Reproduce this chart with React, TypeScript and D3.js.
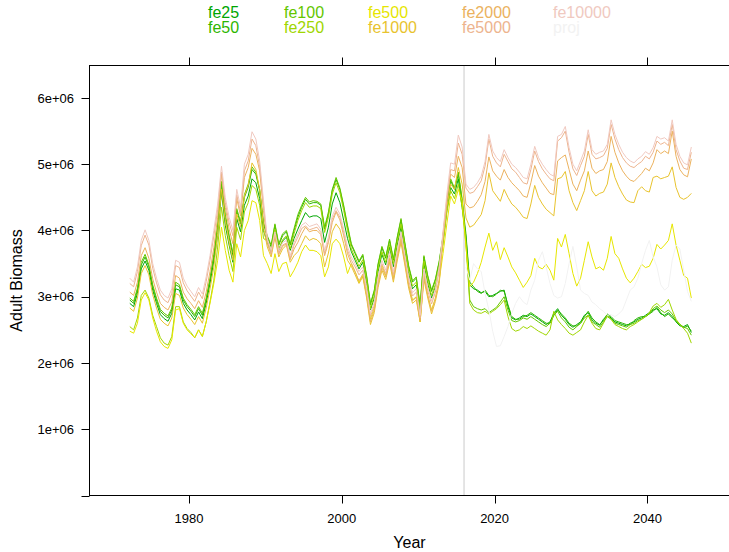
import * as React from "react";
import * as d3 from "d3";

// adult biomass, millions; half-year steps from 1972.25, history to 2015.75 then projection
const years = d3.range(148).map(i => 1972.25 + i * 0.5);
const projStart = 88; // first index of the projection (2016.25)

const fe25 = [
  2.90, 2.85, 3.05, 3.42, 3.54, 3.40, 3.10, 2.90, 2.73, 2.67, 2.63, 2.75, 3.12, 3.10, 2.90, 2.80, 2.73, 2.65, 2.77, 2.67, 2.90, 3.20, 3.54,
  3.93, 4.58, 4.08, 3.78, 3.52, 4.18, 3.98, 4.38, 4.52, 4.78, 4.72, 4.48, 4.00,
  3.82, 3.67, 4.00, 3.70, 3.84, 3.90, 3.70, 3.88, 4.02, 4.15, 4.27, 4.20, 4.22, 4.22, 4.18, 3.82, 4.05, 4.40, 4.57, 4.42, 4.15, 3.88,
  3.68, 3.55, 3.42, 3.52, 3.20, 2.80, 2.98, 3.38, 3.64, 3.48, 3.75, 3.45, 3.78, 4.05, 3.70, 3.35, 3.12, 3.18, 2.76, 3.50, 3.20, 2.98, 3.15, 3.42,
  3.82, 4.30, 4.65, 4.55, 4.78, 4.35,
  3.90, 3.18, 3.12, 3.10, 3.06, 3.08, 3.00, 3.02, 3.05, 3.08, 3.10, 2.85, 2.68, 2.65, 2.68, 2.72, 2.70, 2.74, 2.70, 2.66,
  2.62, 2.58, 2.62, 2.75, 2.82, 2.72, 2.66, 2.58, 2.54, 2.58, 2.62, 2.72, 2.76, 2.65, 2.60, 2.57, 2.66, 2.72, 2.68, 2.62,
  2.60, 2.58, 2.56, 2.60, 2.62, 2.66, 2.68, 2.72, 2.76, 2.80, 2.82, 2.74, 2.72, 2.76, 2.70, 2.62, 2.56, 2.55, 2.58, 2.46,
];
const fe50 = [
  2.95, 2.90, 3.10, 3.48, 3.60, 3.45, 3.15, 2.95, 2.78, 2.72, 2.68, 2.80, 3.18, 3.15, 2.95, 2.85, 2.78, 2.70, 2.82, 2.72, 2.95, 3.25, 3.60,
  4.05, 4.70, 4.20, 3.90, 3.62, 4.30, 4.10, 4.50, 4.65, 4.92, 4.85, 4.60, 4.10,
  3.90, 3.75, 4.08, 3.78, 3.92, 3.98, 3.78, 4.00, 4.20, 4.35, 4.47, 4.40, 4.42, 4.42, 4.38, 4.02, 4.25, 4.60, 4.77, 4.62, 4.35, 4.05,
  3.78, 3.65, 3.52, 3.62, 3.30, 2.88, 3.08, 3.48, 3.74, 3.58, 3.85, 3.55, 3.88, 4.16, 3.80, 3.45, 3.22, 3.28, 2.85, 3.60, 3.30, 3.08, 3.25, 3.52,
  3.90, 4.40, 4.75, 4.62, 4.85, 4.45,
  3.95, 3.22, 3.15, 3.08, 3.05, 3.10, 3.02, 3.00, 3.04, 3.10, 3.08, 2.88, 2.70, 2.66, 2.66, 2.70, 2.72, 2.76, 2.72, 2.68,
  2.64, 2.60, 2.60, 2.72, 2.80, 2.74, 2.68, 2.60, 2.56, 2.56, 2.60, 2.70, 2.78, 2.68, 2.62, 2.58, 2.64, 2.74, 2.70, 2.64,
  2.62, 2.60, 2.58, 2.58, 2.64, 2.68, 2.70, 2.70, 2.74, 2.78, 2.84, 2.76, 2.70, 2.74, 2.68, 2.64, 2.58, 2.53, 2.56, 2.48,
];
const fe100 = [
  2.98, 2.93, 3.13, 3.52, 3.64, 3.48, 3.18, 2.98, 2.81, 2.75, 2.71, 2.83, 3.22, 3.18, 2.98, 2.88, 2.81, 2.73, 2.85, 2.75, 2.98, 3.28, 3.64,
  4.08, 4.74, 4.24, 3.93, 3.66, 4.33, 4.13, 4.54, 4.70, 4.96, 4.88, 4.62, 4.12,
  3.92, 3.78, 4.10, 3.80, 3.95, 4.00, 3.80, 4.03, 4.24, 4.38, 4.50, 4.43, 4.45, 4.44, 4.40, 4.05, 4.28, 4.62, 4.80, 4.64, 4.38, 4.08,
  3.80, 3.67, 3.54, 3.64, 3.32, 2.90, 3.10, 3.50, 3.76, 3.60, 3.87, 3.57, 3.90, 4.18, 3.82, 3.47, 3.24, 3.30, 2.87, 3.62, 3.32, 3.10, 3.27, 3.54,
  3.92, 4.42, 4.78, 4.64, 4.88, 4.48,
  3.85, 2.95, 2.85, 2.82, 2.80, 2.82, 2.76, 2.80, 2.84, 2.92, 3.00, 2.80, 2.64, 2.62, 2.64, 2.68, 2.66, 2.70, 2.66, 2.62,
  2.58, 2.55, 2.60, 2.72, 2.78, 2.68, 2.62, 2.54, 2.50, 2.55, 2.60, 2.68, 2.72, 2.62, 2.58, 2.54, 2.62, 2.70, 2.66, 2.60,
  2.58, 2.56, 2.54, 2.58, 2.60, 2.64, 2.66, 2.70, 2.74, 2.82, 2.86, 2.80, 2.76, 2.80, 2.74, 2.64, 2.58, 2.54, 2.52, 2.42,
];
const fe250 = [
  2.55, 2.50, 2.68, 3.02, 3.10, 2.98, 2.72, 2.55, 2.38, 2.30, 2.27, 2.40, 2.85, 2.85, 2.62, 2.52, 2.46, 2.38, 2.50, 2.40, 2.62, 2.92, 3.25,
  3.75, 4.35, 3.92, 3.62, 3.38, 4.05, 3.86, 4.28, 4.42, 4.68, 4.62, 4.38, 3.88,
  3.84, 3.70, 4.02, 3.72, 3.86, 3.92, 3.72, 3.95, 4.15, 4.30, 4.42, 4.35, 4.37, 4.37, 4.33, 3.97, 4.20, 4.55, 4.72, 4.57, 4.30, 4.00,
  3.72, 3.59, 3.46, 3.56, 3.24, 2.82, 3.02, 3.42, 3.68, 3.52, 3.79, 3.49, 3.82, 4.10, 3.74, 3.39, 3.16, 3.22, 2.79, 3.54, 3.24, 3.02, 3.19, 3.46,
  3.80, 4.28, 4.60, 4.48, 4.70, 4.35,
  3.80, 2.90, 2.80, 2.76, 2.75, 2.78, 2.74, 2.78, 2.82, 2.88, 2.95, 2.70, 2.52, 2.48, 2.50, 2.55, 2.52, 2.56, 2.52, 2.48,
  2.45, 2.42, 2.50, 2.78, 2.65, 2.58, 2.52, 2.45, 2.42, 2.46, 2.50, 2.62, 2.72, 2.60, 2.52, 2.50, 2.60, 2.72, 2.66, 2.58,
  2.55, 2.52, 2.50, 2.55, 2.58, 2.62, 2.66, 2.70, 2.76, 2.86, 2.90, 2.84, 2.88, 2.96, 2.80, 2.66, 2.58, 2.52, 2.45, 2.30,
];
const fe500 = [
  2.48, 2.45, 2.60, 2.95, 3.06, 2.95, 2.68, 2.48, 2.32, 2.25, 2.22, 2.35, 2.80, 2.82, 2.60, 2.50, 2.44, 2.38, 2.50, 2.40, 2.62, 2.90, 3.20,
  3.55, 4.05, 3.70, 3.40, 3.22, 3.80, 3.60, 4.00, 4.15, 4.45, 4.42, 4.15, 3.62,
  3.50, 3.35, 3.65, 3.38, 3.50, 3.52, 3.30, 3.40, 3.52, 3.68, 3.78, 3.70, 3.70, 3.68, 3.62, 3.30, 3.45, 3.80, 3.87, 3.80, 3.60, 3.35,
  3.50, 3.38, 3.22, 3.32, 3.02, 2.66, 2.84, 3.22, 3.48, 3.32, 3.58, 3.28, 3.60, 3.88, 3.54, 3.18, 2.95, 3.00, 2.62, 3.32, 3.02, 2.80, 2.98, 3.25,
  3.65, 4.10, 4.52, 4.40, 4.62, 4.45,
  3.75, 3.15, 3.22, 3.35, 3.52, 3.75, 3.96, 3.70, 3.83, 3.56, 3.74, 3.60, 3.45, 3.36, 3.25, 3.14, 3.22, 3.32, 3.58, 3.45,
  3.42, 3.49, 3.40, 3.25, 3.88, 3.75, 3.94, 3.65, 3.35, 3.16, 3.28, 3.55, 3.83, 3.60, 3.42, 3.45, 3.40, 3.58, 3.91, 3.65,
  3.58, 3.42, 3.28, 3.21, 3.28, 3.38, 3.49, 3.44, 3.46, 3.58, 3.79, 3.72, 3.78, 3.85, 4.10, 3.78, 3.55, 3.32, 3.28, 2.98,
];
const fe1000 = [
  2.83, 2.78, 2.98, 3.35, 3.47, 3.33, 3.03, 2.83, 2.66, 2.60, 2.56, 2.68, 3.05, 3.02, 2.83, 2.73, 2.66, 2.58, 2.70, 2.60, 2.83, 3.12, 3.45,
  3.95, 4.62, 4.15, 3.82, 3.55, 4.25, 4.05, 4.52, 4.68, 5.02, 4.92, 4.62, 4.05,
  3.75, 3.60, 3.90, 3.60, 3.72, 3.78, 3.52, 3.62, 3.68, 3.80, 3.92, 3.85, 3.88, 3.86, 3.80, 3.45, 3.66, 3.98, 4.10, 4.02, 3.80, 3.55,
  3.46, 3.33, 3.20, 3.30, 2.98, 2.58, 2.76, 3.14, 3.40, 3.26, 3.52, 3.22, 3.54, 3.82, 3.48, 3.13, 2.90, 2.95, 2.62, 3.26, 2.98, 2.74, 2.93, 3.20,
  3.85, 4.35, 4.70, 4.62, 4.95, 4.70,
  4.19, 4.05, 4.08, 4.16, 4.24, 4.45, 4.87, 4.60, 4.52, 4.44, 4.62, 4.50, 4.40, 4.35, 4.28, 4.20, 4.18, 4.40, 4.68, 4.50,
  4.40, 4.32, 4.27, 4.22, 4.78, 4.80, 4.89, 4.60, 4.42, 4.30, 4.45, 4.60, 4.89, 4.60, 4.52, 4.56, 4.58, 4.70, 5.02, 4.80,
  4.66, 4.55, 4.46, 4.43, 4.42, 4.60, 4.66, 4.60, 4.58, 4.80, 4.82, 4.78, 4.80, 4.82, 4.96, 4.65, 4.50, 4.47, 4.50, 4.56,
];
const fe2000 = [
  3.07, 3.02, 3.22, 3.62, 3.74, 3.58, 3.27, 3.07, 2.90, 2.84, 2.80, 2.92, 3.32, 3.28, 3.07, 2.97, 2.90, 2.82, 2.94, 2.84, 3.07, 3.38, 3.74,
  4.20, 4.85, 4.35, 4.02, 3.80, 4.48, 4.22, 4.80, 4.95, 5.24, 5.15, 4.90, 4.30,
  3.80, 3.64, 3.94, 3.64, 3.76, 3.80, 3.56, 3.72, 3.82, 3.95, 4.05, 3.98, 4.00, 4.00, 3.94, 3.62, 3.82, 4.12, 4.28, 4.16, 3.92, 3.65,
  3.50, 3.37, 3.24, 3.34, 3.02, 2.62, 2.80, 3.18, 3.44, 3.30, 3.56, 3.26, 3.58, 3.86, 3.52, 3.17, 2.94, 2.99, 2.64, 3.30, 3.02, 2.78, 2.97, 3.25,
  3.95, 4.48, 4.85, 4.80, 5.12, 4.95,
  4.40, 4.34, 4.36, 4.44, 4.54, 4.74, 5.11, 4.90, 4.82, 4.76, 4.92, 4.80, 4.72, 4.66, 4.60, 4.52, 4.50, 4.72, 4.98, 4.82,
  4.72, 4.64, 4.56, 4.54, 5.05, 5.10, 5.14, 4.92, 4.70, 4.60, 4.76, 4.90, 5.20, 4.94, 4.86, 4.90, 4.92, 5.04, 5.42, 5.18,
  5.02, 4.90, 4.82, 4.76, 4.74, 4.80, 4.86, 4.94, 4.90, 5.02, 5.22, 5.16, 5.20, 5.16, 5.50, 5.12, 4.92, 4.84, 4.81, 5.08,
];
const fe5000 = [
  3.20, 3.15, 3.38, 3.77, 3.93, 3.78, 3.43, 3.21, 3.03, 2.95, 2.91, 3.05, 3.47, 3.44, 3.21, 3.09, 3.01, 2.93, 3.07, 2.97, 3.23, 3.55, 3.92,
  4.32, 4.88, 4.42, 4.12, 3.92, 4.54, 4.27, 4.90, 5.05, 5.38, 5.28, 4.96, 4.38,
  3.84, 3.66, 3.94, 3.66, 3.78, 3.81, 3.58, 3.78, 3.90, 4.03, 4.07, 4.01, 4.03, 4.05, 3.97, 3.65, 3.85, 4.17, 4.30, 4.20, 3.97, 3.70,
  3.55, 3.45, 3.33, 3.40, 3.09, 2.70, 2.87, 3.25, 3.50, 3.35, 3.63, 3.33, 3.65, 3.93, 3.59, 3.25, 3.01, 3.07, 2.68, 3.37, 3.09, 2.89, 3.07, 3.40,
  3.92, 4.45, 4.92, 4.90, 5.32, 5.15,
  4.64, 4.56, 4.58, 4.66, 4.75, 4.97, 5.38, 5.12, 5.02, 4.96, 5.15, 5.04, 4.93, 4.88, 4.80, 4.72, 4.70, 4.92, 5.20, 5.04,
  4.93, 4.85, 4.78, 4.75, 5.35, 5.40, 5.50, 5.18, 4.93, 4.83, 4.98, 5.12, 5.45, 5.15, 5.08, 5.10, 5.13, 5.24, 5.60, 5.38,
  5.22, 5.10, 5.02, 4.97, 4.95, 5.00, 5.04, 5.12, 5.08, 5.18, 5.35, 5.30, 5.33, 5.28, 5.60, 5.22, 5.05, 4.94, 4.92, 5.18,
];
const fe10000 = [
  3.28, 3.22, 3.45, 3.85, 4.01, 3.85, 3.50, 3.28, 3.10, 3.02, 2.98, 3.12, 3.55, 3.52, 3.28, 3.16, 3.08, 3.00, 3.14, 3.04, 3.30, 3.62, 4.00,
  4.40, 4.97, 4.50, 4.20, 4.00, 4.62, 4.35, 5.00, 5.15, 5.49, 5.38, 5.05, 4.45,
  3.88, 3.70, 3.98, 3.70, 3.82, 3.85, 3.62, 3.82, 3.95, 4.08, 4.12, 4.06, 4.08, 4.10, 4.02, 3.70, 3.90, 4.22, 4.35, 4.25, 4.02, 3.75,
  3.60, 3.50, 3.38, 3.45, 3.14, 2.74, 2.92, 3.30, 3.55, 3.40, 3.68, 3.38, 3.70, 3.98, 3.64, 3.30, 3.06, 3.12, 2.72, 3.42, 3.14, 2.94, 3.12, 3.45,
  3.98, 4.55, 5.02, 5.00, 5.44, 5.26,
  4.70, 4.62, 4.65, 4.72, 4.82, 5.04, 5.45, 5.20, 5.10, 5.04, 5.22, 5.10, 5.00, 4.95, 4.88, 4.80, 4.78, 5.00, 5.27, 5.10,
  5.00, 4.92, 4.85, 4.82, 5.42, 5.45, 5.57, 5.25, 5.00, 4.90, 5.05, 5.20, 5.52, 5.22, 5.15, 5.18, 5.20, 5.30, 5.67, 5.45,
  5.30, 5.18, 5.10, 5.05, 5.02, 5.08, 5.12, 5.19, 5.15, 5.25, 5.42, 5.38, 5.40, 5.35, 5.67, 5.30, 5.12, 5.02, 4.99, 5.26,
];
// proj only exists for the projection years
const proj = [
  3.45, 3.25, 3.50, 3.42, 3.38, 3.05, 2.80, 2.48, 2.25, 2.26, 2.40, 2.55, 2.75, 2.90, 3.00, 2.92, 2.88, 3.10, 3.25, 3.55,
  3.68, 3.45, 3.20, 3.02, 2.98, 3.00, 3.20, 3.50, 3.76, 3.45, 3.10, 3.05, 3.02, 2.92, 2.88, 2.82, 2.78, 2.72, 2.73, 2.70,
  2.74, 2.80, 2.95, 3.10, 3.15, 3.28, 3.50, 3.70, 3.85, 3.60, 3.45, 3.18, 3.10, 3.15, 3.55, 3.78, 3.72, 3.40, 3.08, 2.93,
];

const seriesNames = ["fe25", "fe50", "fe100", "fe250", "fe500", "fe1000", "fe2000", "fe5000", "fe10000", "proj"];
const seriesValues = [fe25, fe50, fe100, fe250, fe500, fe1000, fe2000, fe5000, fe10000, proj];
const seriesOffset = [0, 0, 0, 0, 0, 0, 0, 0, 0, projStart];
// terrain.colors(10)
const colors = ["#00A600", "#2DB600", "#63C600", "#A0D600", "#E6E600", "#E8C32E", "#EBB25E", "#EDB48E", "#F0C9C0", "#F2F2F2"];
const cutYear = 2016;

const W = 729;
const H = 552;
const font = "'Liberation Sans', Arial, Helvetica, sans-serif";

export default function App() {
  const left = 89.5, right = 729.5, top = 65.5, bottom = 495.5;
  // 1980 sits at x=189 and 20 years span ~152.8px
  const x = d3.scaleLinear()
    .domain([1980 + (left - 189) / 7.64, 1980 + (right - 189) / 7.64])
    .range([left, right]);
  const y = d3.scaleLinear().domain([0, 6.49e6]).range([bottom, top]);

  const line = d3.line<[number, number]>()
    .x(d => x(d[0]))
    .y(d => y(d[1] * 1e6));

  const xTicks = x.ticks(4);
  const yTicks = y.ticks(6);
  const legendCols = [208, 284, 368, 462, 553];
  const legendRows = [17.5, 33];

  return (
    <svg width={W} height={H} style={{ position: "absolute", left: 0, top: 0, background: "#fff" }}
      fontFamily={font}>
      {/* legend */}
      {seriesNames.map((n, i) => (
        <text key={n} x={legendCols[Math.floor(i / 2)]} y={legendRows[i % 2]} fontSize={16} fill={colors[i]}>{n}</text>
      ))}

      <line x1={x(cutYear)} x2={x(cutYear)} y1={top} y2={bottom} stroke="#d3d3d3" strokeWidth={1.2} />

      <clipPath id="panel">
        <rect x={left} y={top} width={right - left} height={bottom - top} />
      </clipPath>
      <g clipPath="url(#panel)" fill="none" strokeWidth={1}>
        {seriesValues.map((vals, s) => {
          const pts = vals.map((v, i) => [years[i + seriesOffset[s]], v] as [number, number]);
          return <path key={seriesNames[s]} d={line(pts) || ""} stroke={colors[s]} />;
        })}
      </g>

      <rect x={left} y={top} width={right - left} height={bottom - top} fill="none" stroke="#000" strokeWidth={1} />

      {/* x axis */}
      {xTicks.map(t => (
        <g key={t}>
          <line x1={Math.round(x(t)) + 0.5} x2={Math.round(x(t)) + 0.5} y1={bottom} y2={bottom + 8} stroke="#000" />
          <line x1={Math.round(x(t)) + 0.5} x2={Math.round(x(t)) + 0.5} y1={top} y2={top - 8} stroke="#000" />
          <text x={x(t)} y={523} fontSize={13} textAnchor="middle">{t}</text>
        </g>
      ))}
      <text x={(left + right) / 2} y={548} fontSize={16} textAnchor="middle">Year</text>

      {/* y axis */}
      {yTicks.map(t => (
        <g key={t}>
          <line x1={left - 8} x2={left} y1={Math.round(y(t)) + 0.5} y2={Math.round(y(t)) + 0.5} stroke="#000" />
          {t > 0 && (
            <text x={74} y={y(t)} dy="0.35em" fontSize={13} textAnchor="end">{`${t / 1e6}e+06`}</text>
          )}
        </g>
      ))}
      <text transform={`translate(22,${(top + bottom) / 2}) rotate(-90)`} fontSize={16} textAnchor="middle">Adult Biomass</text>
    </svg>
  );
}
